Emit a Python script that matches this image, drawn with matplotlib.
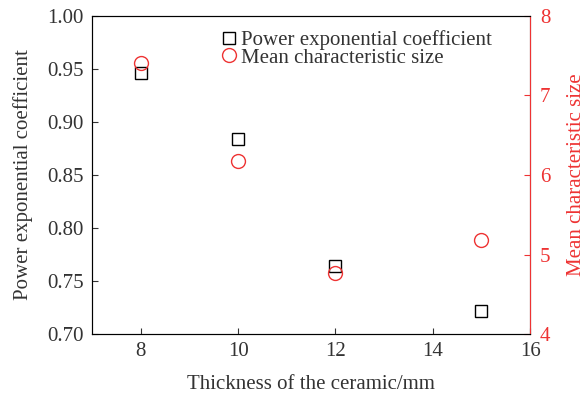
import matplotlib.pyplot as plt
from matplotlib.lines import Line2D

plt.rcParams['font.family'] = ['Liberation Serif', 'DejaVu Serif']

# ceramic thickness (mm) and the two fitted quantities
thickness = [8, 10, 12, 15]
power_coef = [0.946, 0.884, 0.764, 0.722]
mean_size = [7.41, 6.18, 4.77, 5.18]

red = '#ee3333'
dark = '#333333'
fs = 15

fig, ax = plt.subplots(figsize=(5.87, 3.94), dpi=100)
fig.subplots_adjust(left=0.157, right=0.903, top=0.96, bottom=0.152)

ax.plot(thickness, power_coef, 's', ms=9, mfc='none', mec='black', mew=1.0)
ax.set_xlim(7, 16)
ax.set_ylim(0.70, 1.00)
ax.set_xticks([8, 10, 12, 14, 16])
ax.set_yticks([0.70, 0.75, 0.80, 0.85, 0.90, 0.95, 1.00])
ax.set_yticklabels(['%.2f' % v for v in ax.get_yticks()])
ax.tick_params(direction='in', labelsize=fs, colors=dark, length=4)
ax.tick_params(axis='x', pad=6)
ax.tick_params(axis='y', pad=6)
ax.set_xlabel('Thickness of the ceramic/mm', fontsize=fs, color=dark, labelpad=10)
ax.set_ylabel('Power exponential coefficient', fontsize=fs, color=dark, labelpad=10)
for s in ['left', 'bottom', 'top']:
    ax.spines[s].set_color(dark)

ax2 = ax.twinx()
ax2.plot(thickness, mean_size, 'o', ms=10, mfc='none', mec=red, mew=1.0)
ax2.set_ylim(4, 8)
ax2.set_yticks([4, 5, 6, 7, 8])
ax2.tick_params(direction='in', labelsize=fs, colors=red, length=4, pad=7)
ax2.spines['right'].set_color(red)
ax2.set_ylabel('Mean characteristic size', fontsize=fs, color=red, labelpad=12)

handles = [
    Line2D([], [], marker='s', ls='none', ms=9, mfc='none', mec='black', mew=1.0),
    Line2D([], [], marker='o', ls='none', ms=10, mfc='none', mec=red, mew=1.0),
]
ax.legend(handles, ['Power exponential coefficient', 'Mean characteristic size'],
          loc='upper left', bbox_to_anchor=(0.255, 1.0), frameon=False,
          fontsize=fs, handletextpad=0.1, borderpad=0.2, labelspacing=-0.1,
          handlelength=1.0, labelcolor=dark)

fig.savefig('out.png')
